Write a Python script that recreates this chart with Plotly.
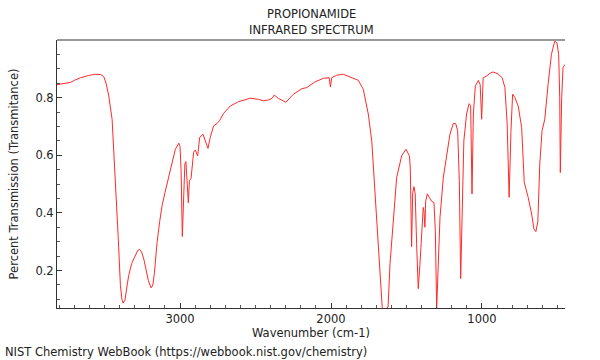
import plotly.graph_objects as go

wavenumber = [
    3815, 3760, 3725, 3700, 3659, 3605, 3560, 3525, 3505, 3490, 3472, 3450, 3432, 3410, 3395, 3385, 3377, 3365,
    3350, 3340, 3320, 3296, 3280, 3267, 3255, 3240, 3225, 3210, 3192, 3180, 3170, 3152, 3135, 3119, 3100, 3075,
    3050, 3031, 3015, 3008, 3000, 2993, 2985, 2979, 2968, 2961, 2953, 2945, 2938, 2927, 2910, 2899, 2883, 2870,
    2848, 2833, 2815, 2800, 2778, 2755, 2738, 2712, 2667, 2612, 2535, 2480, 2447, 2414, 2390, 2376, 2348, 2299,
    2249, 2193, 2160, 2105, 2050, 2012, 2004, 1995, 1962, 1918, 1885, 1852, 1819, 1786, 1753, 1730, 1708, 1686,
    1669, 1660, 1640, 1622, 1609, 1587, 1565, 1532, 1503, 1481, 1475, 1466, 1459, 1450, 1442, 1433, 1422, 1411,
    1399, 1389, 1384, 1378, 1373, 1362, 1349, 1333, 1318, 1309, 1300, 1291, 1278, 1256, 1234, 1212, 1190, 1174,
    1161, 1150, 1141, 1130, 1120, 1102, 1085, 1075, 1066, 1057, 1044, 1024, 1012, 1002, 992, 970, 948, 926,
    893, 866, 848, 833, 820, 808, 797, 782, 760, 737, 720, 694, 671, 656, 643, 630, 617, 602, 584, 562,
    540, 518, 503, 492, 485, 481, 476, 472, 463, 451,
]
transmittance = [
    0.845, 0.851, 0.853, 0.860, 0.869, 0.877, 0.881, 0.880, 0.873, 0.850, 0.806, 0.725, 0.552, 0.321, 0.148, 0.100, 0.087, 0.097,
    0.150, 0.183, 0.225, 0.255, 0.270, 0.273, 0.265, 0.240, 0.200, 0.165, 0.140, 0.150, 0.190, 0.298, 0.370, 0.425, 0.470, 0.529,
    0.580, 0.621, 0.640, 0.642, 0.630, 0.550, 0.318, 0.420, 0.570, 0.578, 0.520, 0.435, 0.512, 0.520, 0.610, 0.618, 0.598, 0.662,
    0.673, 0.650, 0.624, 0.662, 0.702, 0.710, 0.720, 0.745, 0.771, 0.786, 0.798, 0.794, 0.789, 0.792, 0.798, 0.809, 0.797, 0.784,
    0.812, 0.831, 0.835, 0.855, 0.867, 0.869, 0.837, 0.869, 0.878, 0.881, 0.874, 0.869, 0.860, 0.829, 0.743, 0.650, 0.454, 0.293,
    0.108, 0.066, 0.066, 0.073, 0.224, 0.385, 0.523, 0.598, 0.621, 0.598, 0.560, 0.283, 0.470, 0.491, 0.465, 0.293, 0.137, 0.220,
    0.339, 0.419, 0.405, 0.350, 0.440, 0.466, 0.454, 0.440, 0.436, 0.339, 0.070, 0.177, 0.385, 0.523, 0.598, 0.673, 0.710, 0.710,
    0.685, 0.512, 0.172, 0.454, 0.650, 0.743, 0.779, 0.772, 0.466, 0.743, 0.840, 0.860, 0.845, 0.725, 0.869, 0.875, 0.884, 0.889,
    0.882, 0.869, 0.835, 0.708, 0.454, 0.683, 0.812, 0.800, 0.771, 0.696, 0.506, 0.454, 0.396, 0.345, 0.335, 0.370, 0.570, 0.685, 0.725, 0.846,
    0.950, 0.996, 0.990, 0.950, 0.800, 0.540, 0.700, 0.800, 0.904, 0.915,
]

x_ticks = [3000, 2000, 1000]
x_tick_labels = ["3000", "2000", "1000"]
y_ticks = [0.2, 0.4, 0.6, 0.8]
y_tick_labels = ["0.2", "0.4", "0.6", "0.8"]

FONT = "DejaVu Sans"
TXT = "#222222"

fig = go.Figure()
fig.add_trace(go.Scatter(
    x=wavenumber, y=transmittance, mode="lines",
    line=dict(color="#ff2a2a", width=1), hoverinfo="skip", showlegend=False,
))

fig.update_layout(
    width=600, height=360,
    margin=dict(l=57, r=35, t=40, b=52),
    paper_bgcolor="white", plot_bgcolor="white",
    font=dict(family=FONT, size=11.5, color=TXT),
    showlegend=False,
)
fig.update_xaxes(
    range=[3815, 450], autorange=False,
    tickmode="array", tickvals=x_ticks, ticktext=x_tick_labels,
    ticks="inside", ticklen=5, tickcolor="#333333", tickwidth=1,
    minor=dict(dtick=100, tick0=0, ticks="inside", ticklen=3, tickcolor="#555555", showgrid=False),
    showline=True, linecolor="#333333", linewidth=1,
    showgrid=False, zeroline=False,
    title=dict(text="Wavenumber (cm-1)", standoff=2, font=dict(size=11.5, color=TXT)),
    tickfont=dict(size=11.5, color=TXT),
)
fig.update_yaxes(
    range=[0.07, 1.0], autorange=False,
    tickmode="array", tickvals=y_ticks, ticktext=y_tick_labels,
    ticks="inside", ticklen=5, tickcolor="#333333", tickwidth=1,
    minor=dict(dtick=0.05, tick0=0, ticks="inside", ticklen=3, tickcolor="#555555", showgrid=False),
    showline=True, linecolor="#333333", linewidth=1,
    showgrid=False, zeroline=False,
    title=dict(text="Percent Transmission (Transmitance)", standoff=14, font=dict(size=11.5, color=TXT)),
    tickfont=dict(size=11.5, color=TXT),
)

# gray top border
fig.add_shape(type="line", xref="paper", yref="paper", x0=0, x1=1, y0=1, y1=1,
              line=dict(color="#9a9a9a", width=2))

fig.add_annotation(text="PROPIONAMIDE", xref="paper", yref="paper", x=0.5, y=1,
                   yshift=26, xanchor="center", yanchor="middle", showarrow=False,
                   font=dict(family=FONT, size=11.5, color=TXT))
fig.add_annotation(text="INFRARED SPECTRUM", xref="paper", yref="paper", x=0.5, y=1,
                   yshift=10, xanchor="center", yanchor="middle", showarrow=False,
                   font=dict(family=FONT, size=11.5, color=TXT))
fig.add_annotation(text="NIST Chemistry WebBook (https://webbook.nist.gov/chemistry)",
                   xref="paper", yref="paper", x=0, y=0, xshift=-54, yshift=-44,
                   xanchor="left", yanchor="middle", showarrow=False,
                   font=dict(family=FONT, size=11.5, color=TXT))

fig.write_html("out.html", config={"displayModeBar": False},
               post_script="document.body.style.margin='0px';")
